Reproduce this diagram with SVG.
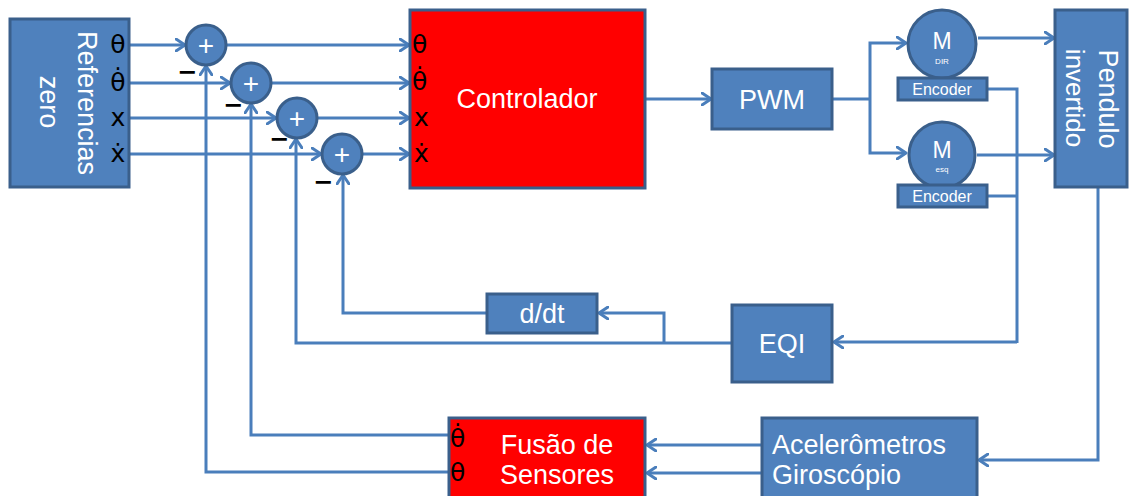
<svg xmlns="http://www.w3.org/2000/svg" width="1132" height="496" viewBox="0 0 1132 496">
<defs>
<marker id="arr" markerWidth="12" markerHeight="14" refX="10" refY="7" orient="auto" markerUnits="userSpaceOnUse">
<path d="M1,1 L10,7 L1,13" fill="none" stroke="#4a7ebb" stroke-width="3" stroke-linecap="round" stroke-linejoin="round"/>
</marker>
<style>
.box{fill:#4f81bd;stroke:#3a5f8b;stroke-width:3}
.red{fill:#ff0000;stroke:#3a5f8b;stroke-width:3}
.ln{fill:none;stroke:#4a7ebb;stroke-width:3}
.a{marker-end:url(#arr)}
.wt{fill:#ffffff;font-family:"Liberation Sans",Arial,sans-serif}
.bk{fill:#000000;font-family:"DejaVu Sans","Liberation Sans",sans-serif}
.big{font-size:27px}
.sym{font-size:25px}
.mid{text-anchor:middle}
.pl{font-size:28px}
.mn{font-size:24px;font-weight:bold}
</style>
</defs>
<rect width="1132" height="496" fill="#ffffff"/>

<g id="connectors">
<path class="ln a" d="M129,45 H185"/>
<path class="ln a" d="M129,83 H230"/>
<path class="ln a" d="M129,118 H276"/>
<path class="ln a" d="M129,154 H321"/>
<path class="ln a" d="M226,45 H409"/>
<path class="ln a" d="M271,83 H409"/>
<path class="ln a" d="M317,118 H409"/>
<path class="ln a" d="M362,154 H409"/>
<path class="ln a" d="M449,472 H206 V66"/>
<path class="ln a" d="M449,435 H251 V104"/>
<path class="ln a" d="M732,343 H296 V139"/>
<path class="ln a" d="M487,313 H343 V175"/>
<path class="ln a" d="M664,343 V313 H599"/>
<path class="ln a" d="M645,99 H711"/>
<path class="ln" d="M832,99 H870"/>
<path class="ln a" d="M870,99 V43 H906"/>
<path class="ln a" d="M870,99 V153 H906"/>
<path class="ln a" d="M978,38 H1054"/>
<path class="ln a" d="M977,155 H1054"/>
<path class="ln" d="M987,89 H1017 V343"/>
<path class="ln" d="M987,196 H1017"/>
<path class="ln a" d="M1017,342 H834"/>
<path class="ln a" d="M1098,188 V460 H979"/>
<path class="ln a" d="M762,445 H647"/>
<path class="ln a" d="M762,473 H647"/>
</g>

<g id="referencias">
<rect class="box" x="10" y="19" width="119" height="168"/>
<text class="wt big mid" transform="translate(78,103) rotate(90)">Referencias</text>
<text class="wt big mid" transform="translate(40,102) rotate(90)">zero</text>
<text class="bk sym mid" x="118" y="53">θ</text>
<text class="bk sym mid" x="118" y="91">θ̇</text>
<text class="bk sym mid" x="118" y="126">x</text>
<text class="bk sym mid" x="118" y="162">ẋ</text>
</g>

<g id="sum1">
<circle class="box" cx="206" cy="45" r="20"/>
<text class="wt pl mid" x="206" y="55">+</text>
<text class="bk mn mid" x="187" y="80">−</text>
</g>
<g id="sum2">
<circle class="box" cx="251" cy="83" r="20"/>
<text class="wt pl mid" x="251" y="93">+</text>
<text class="bk mn mid" x="233" y="113">−</text>
</g>
<g id="sum3">
<circle class="box" cx="297" cy="118" r="20"/>
<text class="wt pl mid" x="297" y="128">+</text>
<text class="bk mn mid" x="279" y="147">−</text>
</g>
<g id="sum4">
<circle class="box" cx="342" cy="154" r="20"/>
<text class="wt pl mid" x="342" y="164">+</text>
<text class="bk mn mid" x="323" y="190">−</text>
</g>

<g id="controlador">
<rect class="red" x="410" y="10" width="235" height="178"/>
<text class="wt big mid" x="527" y="108">Controlador</text>
<text class="bk sym" x="412" y="53">θ</text>
<text class="bk sym" x="412" y="90">θ̇</text>
<text class="bk sym" x="414" y="126">x</text>
<text class="bk sym" x="414" y="162">ẋ</text>
</g>

<g id="pwm">
<rect class="box" x="712" y="69" width="120" height="60"/>
<text class="wt big mid" x="772" y="109">PWM</text>
</g>

<g id="motor-dir">
<circle class="box" cx="942" cy="44" r="34"/>
<text class="wt mid" x="942" y="49" font-size="23">M</text>
<text class="wt mid" x="942" y="64" font-size="8">DIR</text>
<rect class="box" x="898" y="78" width="89" height="22"/>
<text class="wt mid" x="942" y="95" font-size="16">Encoder</text>
</g>

<g id="motor-esq">
<circle class="box" cx="942" cy="155" r="33"/>
<text class="wt mid" x="942" y="158" font-size="23">M</text>
<text class="wt mid" x="942" y="172" font-size="8">esq</text>
<rect class="box" x="898" y="185" width="89" height="22"/>
<text class="wt mid" x="942" y="202" font-size="16">Encoder</text>
</g>

<g id="pendulo">
<rect class="box" x="1055" y="10" width="72" height="177"/>
<text class="wt big mid" transform="translate(1099,99) rotate(90)">Pendulo</text>
<text class="wt mid" font-size="26" transform="translate(1066,98) rotate(90)">invertido</text>
</g>

<g id="ddt">
<rect class="box" x="487" y="294" width="110" height="39"/>
<text class="wt big mid" x="542" y="323">d/dt</text>
</g>

<g id="eqi">
<rect class="box" x="732" y="305" width="100" height="77"/>
<text class="wt big mid" x="782" y="353">EQI</text>
</g>

<g id="fusao">
<rect class="red" x="449" y="418" width="196" height="82"/>
<text class="wt big mid" x="557" y="454">Fusão de</text>
<text class="wt big mid" x="557" y="484">Sensores</text>
<text class="bk sym" x="450" y="447">θ̇</text>
<text class="bk sym" x="450" y="481">θ</text>
</g>

<g id="acelerometros">
<rect class="box" x="762" y="418" width="215" height="82"/>
<text class="wt big" x="772" y="454">Acelerômetros</text>
<text class="wt big" x="772" y="484">Giroscópio</text>
</g>
</svg>
